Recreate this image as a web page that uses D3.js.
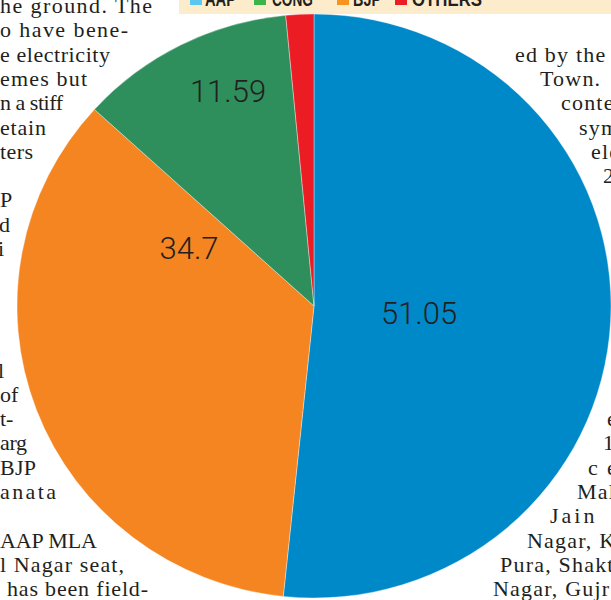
<!DOCTYPE html>
<html><head><meta charset="utf-8">
<script src="https://cdn.jsdelivr.net/npm/d3@7"></script>
<style>
html,body{margin:0;padding:0;background:#fff;}
svg{display:block;}
</style></head>
<body>
<script>
// ---- data ----
const legendParties = ["AAP", "CONG", "BJP", "OTHERS"];
const pieParties = ["AAP", "BJP", "CONG", "OTHERS"];
const voteShare = [51.05, 34.7, 11.59, 1.5];
const shownLabels = ["51.05", "34.7", "11.59", ""];

// background newspaper copy (text, line index)
const leftText = [
  ["he ground. The", 0], ["o have bene-", 1], ["e electricity", 2], ["emes but", 3],
  ["n a stiff", 4], ["etain", 5], ["ters", 6], ["P", 8], ["d", 9], ["i", 10],
  ["l", 15], ["of", 16], ["t-", 17], ["arg", 18], ["BJP", 19], ["anata", 20],
  ["AAP MLA", 22], ["l Nagar seat,", 23], ["has been field-", 24]
];
const leftStarts = [0, 0, 0, 0, 0, 0, 0, 0, -1, -2, -2, 0, 0, 0, 0, 0, 0, 0, 7];
const leftEnds = [152, 128, 110, 87, 63, 46, 33, 12, 7, 3, 4, 13, 13, 27, 36, 56, 97, 124, 148];
const rightText = [
  ["ed by the", 2], ["Town.", 3], ["conte", 4], ["sym", 5], ["ele", 6], ["2", 7],
  ["e", 17], ["1", 18], ["c", 19], ["e", 19], ["Mal", 20], ["Jain", 21],
  ["Nagar, K", 22], ["Pura, Shakt", 23], ["Nagar, Gujra", 24]
];
const rightStarts = [515, 540, 561, 579, 591, 603, 607, 603, 588, 607, 577, 550, 527, 500, 493];

// ---- style ----
const pieColors = {AAP: "#0089c9", BJP: "#f58521", CONG: "#2e8f5c", OTHERS: "#ec1c24"};
const legendColors = {AAP: "#5bc6f0", CONG: "#3bb54a", BJP: "#f7941d", OTHERS: "#ec1c24"};

const W = 611, H = 600;
const svg = d3.select("body").append("svg").attr("width", W).attr("height", H);

const baseline = k => 13 + 24.3 * k;
const serif = "'Liberation Serif', 'DejaVu Serif', serif";

// newspaper copy
svg.append("g").selectAll("text").data(leftText).join("text")
  .attr("x", (d, i) => leftStarts[i]).attr("y", d => baseline(d[1]))
  .attr("font-family", serif).attr("font-size", 22).attr("fill", "#231f20")
  .each(function(d, i) {
    if (d[0].length >= 3) {
      d3.select(this).attr("textLength", leftEnds[i] - leftStarts[i]).attr("lengthAdjust", "spacing");
    }
  })
  .text(d => d[0]);
svg.append("g").selectAll("text").data(rightText).join("text")
  .attr("x", (d, i) => rightStarts[i]).attr("y", d => baseline(d[1]))
  .attr("font-family", serif).attr("font-size", 22).attr("fill", "#231f20")
  .attr("letter-spacing", d => d[0] === "Jain" ? 3 : 1.2)
  .text(d => d[0]);

// pie
const cx = 314, cy = 306, ry = 292, rx = 297;
const pie = d3.pie().sort(null).value(d => d.v);
const arcs = pie(pieParties.map((p, i) => ({p, v: voteShare[i], label: shownLabels[i]})));
const arc = d3.arc().innerRadius(0).outerRadius(ry);

const g = svg.append("g").attr("transform", `translate(${cx},${cy}) scale(${rx / ry},1)`);
g.selectAll("path").data(arcs).join("path")
  .attr("d", arc)
  .attr("fill", d => pieColors[d.data.p])
  .attr("stroke", "rgba(255,255,255,0.45)")
  .attr("stroke-width", 0.8);

// label anchors (layout, relative to pie centre)
const labelOffset = {AAP: [105, 7], BJP: [-125, -58], CONG: [-86, -215], OTHERS: [0, 0]};
svg.append("g").selectAll("text").data(arcs.filter(d => d.data.label)).join("text")
  .attr("x", d => cx + labelOffset[d.data.p][0])
  .attr("y", d => cy + labelOffset[d.data.p][1])
  .attr("dy", "0.36em")
  .attr("text-anchor", "middle")
  .attr("font-family", "Roboto, 'Liberation Sans', sans-serif")
  .attr("font-weight", 300)
  .attr("font-size", 31)
  .attr("fill", "#231f20")
  .text(d => d.data.label);

// legend band (cropped at top)
const leg = svg.append("g");
leg.append("rect").attr("x", 179).attr("y", 0).attr("width", W - 179).attr("height", 14).attr("fill", "#fdeccb");
const legSq = {AAP: 190, CONG: 254, BJP: 337, OTHERS: 395};
const legTx = {AAP: [205, 31], CONG: [272, 41], BJP: [353, 28], OTHERS: [412, 70]};
leg.selectAll("rect.sq").data(legendParties).join("rect").attr("class", "sq")
  .attr("x", d => legSq[d]).attr("y", -8).attr("width", 12).attr("height", 13)
  .attr("fill", d => legendColors[d]);
leg.selectAll("text").data(legendParties).join("text")
  .attr("x", d => legTx[d][0]).attr("y", 6)
  .attr("textLength", d => legTx[d][1]).attr("lengthAdjust", "spacingAndGlyphs")
  .attr("font-family", "'Liberation Sans Narrow', 'Liberation Sans', sans-serif")
  .attr("font-weight", "bold").attr("font-size", 21).attr("fill", "#231f20")
  .text(d => d);
</script>
</body></html>
